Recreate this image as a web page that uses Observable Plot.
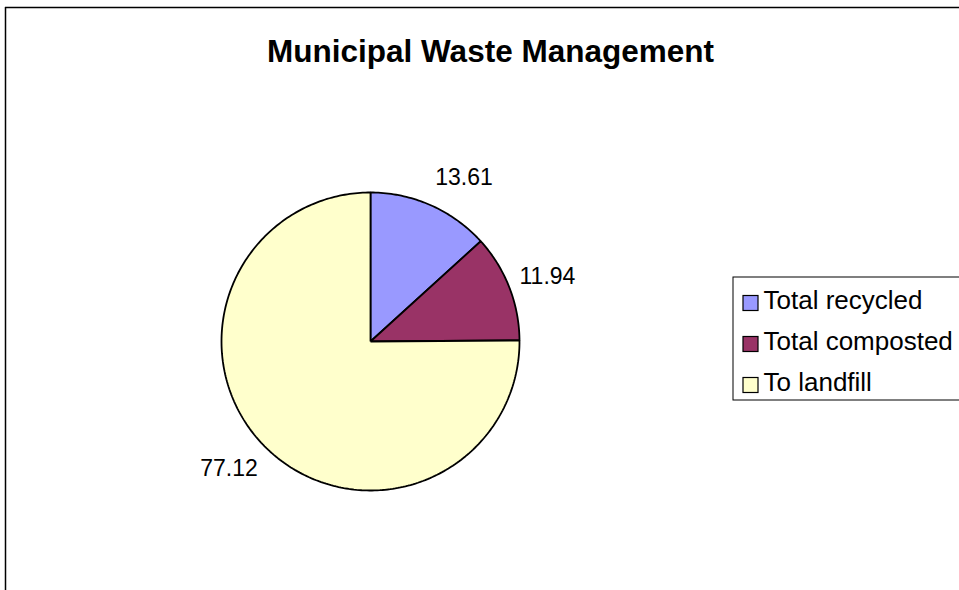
<!DOCTYPE html>
<html>
<head>
<meta charset="utf-8">
<script src="https://cdn.jsdelivr.net/npm/d3@7"></script>
<script src="https://cdn.jsdelivr.net/npm/@observablehq/plot@0.6"></script>
<style>
html, body { margin: 0; padding: 0; background: #fff; overflow: hidden; }
#chart svg { display: block; overflow: hidden !important; }
</style>
</head>
<body>
<div id="chart"></div>
<script>
// ---- data ----
const title = "Municipal Waste Management";
const categories = ["Total recycled", "Total composted", "To landfill"];
const values = [13.61, 11.94, 77.12];
const valueLabels = ["13.61", "11.94", "77.12"];
const colors = ["#9999FF", "#993366", "#FFFFCC"];

// ---- layout ----
const W = 959, H = 590;
const cx = 370, cy = 341, R = 149;      // pie centre / radius in canvas units
const labRx = 160, labRy = 179;          // label offsets from centre
const FONT = "'Liberation Sans', Arial, Helvetica, sans-serif";

const rows = categories.map((name, i) => ({name, value: values[i], label: valueLabels[i]}));
const arcs = d3.pie().sort(null).value(d => d.value)(rows);

// slice outlines (centre -> arc -> centre)
const slicePts = [];
for (const a of arcs) {
  const n = Math.max(2, Math.ceil((a.endAngle - a.startAngle) / (Math.PI / 180)));
  slicePts.push({name: a.data.name, x: cx, y: cy});
  for (let k = 0; k <= n; k++) {
    const t = a.startAngle + (a.endAngle - a.startAngle) * k / n;
    slicePts.push({name: a.data.name, x: cx + R * Math.sin(t), y: cy - R * Math.cos(t)});
  }
  slicePts.push({name: a.data.name, x: cx, y: cy});
}

const labelPts = arcs.map(a => {
  const m = (a.startAngle + a.endAngle) / 2;
  return {label: a.data.label, x: cx + labRx * Math.sin(m), y: cy - labRy * Math.cos(m), right: Math.sin(m) >= 0};
});

const legX = 733, legTop = 277, legBottom = 400, rowY0 = 300, rowStep = 41, sq = 15;

const chart = Plot.plot({
  width: W, height: H, margin: 0,
  x: {domain: [0, W], range: [0, W], axis: null},
  y: {domain: [0, H], range: [0, H], axis: null},
  color: {domain: categories, range: colors},
  style: {fontFamily: FONT, background: "#fff", overflow: "hidden", color: "#000"},
  marks: [
    Plot.ruleY([7], {x1: 5, x2: W, stroke: "#000", strokeWidth: 1.5}),
    Plot.ruleX([5], {y1: 7, y2: H, stroke: "#000", strokeWidth: 1.5}),
    Plot.text([title], {x: 490, y: 51, text: d => d, fontSize: 31.5, fontWeight: "bold", fill: "#000"}),
    Plot.line(slicePts, {x: "x", y: "y", z: "name", fill: "name", stroke: "#000", strokeWidth: 1.8, strokeLinejoin: "miter", strokeLinecap: "butt"}),
    Plot.text(labelPts.filter(d => d.right), {x: "x", y: "y", text: "label", textAnchor: "start", fontSize: 23, fill: "#000"}),
    Plot.text(labelPts.filter(d => !d.right), {x: "x", y: "y", text: "label", textAnchor: "end", fontSize: 23, fill: "#000"}),
    Plot.rect([0], {x1: legX, x2: W + 5, y1: legTop, y2: legBottom, fill: "#fff", stroke: "#000", strokeWidth: 1}),
    Plot.rect(categories, {x1: 743, x2: 743 + sq, y1: (d, i) => rowY0 + 3 + rowStep * i - sq / 2, y2: (d, i) => rowY0 + 3 + rowStep * i + sq / 2, fill: d => d, stroke: "#000", strokeWidth: 1.2}),
    Plot.text(categories, {x: 763, y: (d, i) => rowY0 + rowStep * i, text: d => d, textAnchor: "start", fontSize: 26, fill: "#000"})
  ]
});
document.getElementById("chart").appendChild(chart);
</script>
</body>
</html>
